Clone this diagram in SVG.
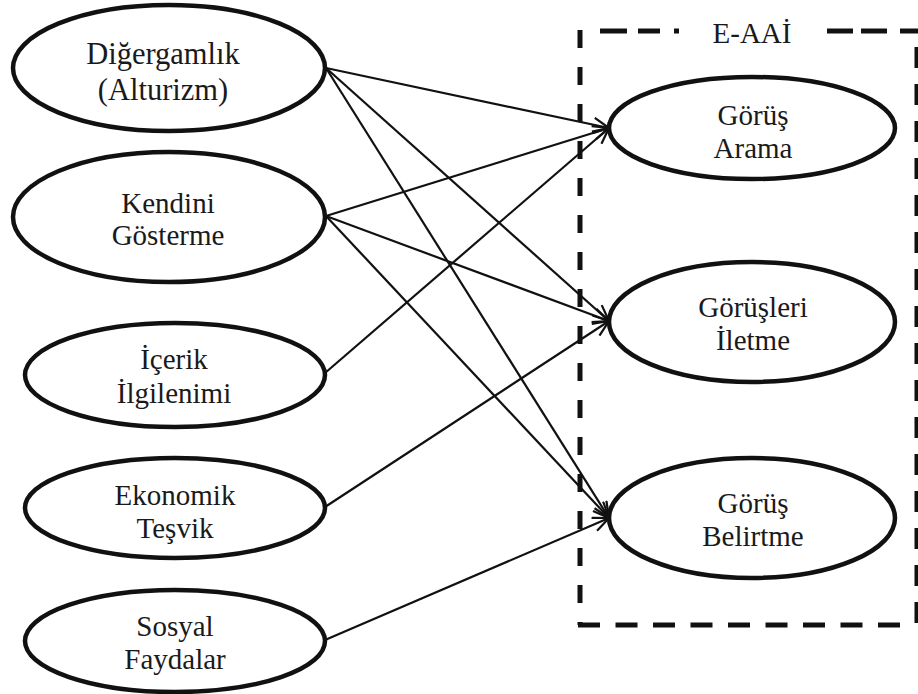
<svg xmlns="http://www.w3.org/2000/svg" width="918" height="694" viewBox="0 0 918 694">
  <style>
    .node ellipse { fill: #ffffff; stroke: #111111; stroke-width: 4.5; }
    text { font-family: 'Liberation Serif', 'DejaVu Serif', serif; font-size: 29px; fill: #1a1a1a; text-anchor: middle; }
    .big text { font-size: 30.5px; }
    .edge { stroke: #111111; stroke-width: 2.2; fill: none; marker-end: url(#arrow); }
    .frame { stroke: #111111; stroke-width: 5; fill: none; }
  </style>
  <defs>
    <marker id="arrow" markerWidth="20" markerHeight="16" refX="17" refY="8" orient="auto" markerUnits="userSpaceOnUse">
      <path d="M1,1 L17,8 L1,15" fill="none" stroke="#111111" stroke-width="2.2"/>
    </marker>
  </defs>
  <rect width="918" height="694" fill="#ffffff"/>

  <!-- dashed E-AAİ frame -->
  <g id="frame">
    <line class="frame" x1="580" y1="30" x2="580" y2="625" stroke-dasharray="18 19"/>
    <line class="frame" x1="578" y1="625" x2="902" y2="625" stroke-dasharray="22 15.5"/>
    <line class="frame" x1="917" y1="47" x2="917" y2="628" stroke-dasharray="21 16"/>
    <line class="frame" x1="600" y1="31" x2="627" y2="31"/>
    <line class="frame" x1="638" y1="31" x2="660" y2="31"/>
    <line class="frame" x1="674" y1="31" x2="679" y2="31"/>
    <line class="frame" x1="827" y1="31" x2="853" y2="31"/>
    <line class="frame" x1="861" y1="31" x2="887" y2="31"/>
    <line class="frame" x1="900" y1="31" x2="918" y2="31"/>
    <text x="752" y="43">E-AAİ</text>
  </g>

  <!-- connectors -->
  <g id="connectors">
    <line class="edge" x1="326" y1="68" x2="609" y2="128"/>
    <line class="edge" x1="326" y1="68" x2="609" y2="321"/>
    <line class="edge" x1="326" y1="68" x2="609" y2="518"/>
    <line class="edge" x1="326" y1="216" x2="609" y2="128"/>
    <line class="edge" x1="326" y1="216" x2="609" y2="321"/>
    <line class="edge" x1="326" y1="216" x2="609" y2="518"/>
    <line class="edge" x1="325" y1="373" x2="609" y2="128"/>
    <line class="edge" x1="325" y1="507" x2="609" y2="321"/>
    <line class="edge" x1="325" y1="640" x2="609" y2="518"/>
  </g>

  <!-- antecedent motives -->
  <g id="n-digergamlik" class="node big">
    <ellipse cx="169" cy="68" rx="156" ry="63"/>
    <text x="163" y="64">Diğergamlık</text>
    <text x="163" y="100">(Alturizm)</text>
  </g>
  <g id="n-kendini" class="node">
    <ellipse cx="169" cy="217" rx="156" ry="65"/>
    <text x="168" y="213">Kendini</text>
    <text x="168" y="245">Gösterme</text>
  </g>
  <g id="n-icerik" class="node">
    <ellipse cx="175" cy="375" rx="150" ry="52"/>
    <text x="174" y="369">İçerik</text>
    <text x="174" y="403">İlgilenimi</text>
  </g>
  <g id="n-ekonomik" class="node">
    <ellipse cx="175" cy="508" rx="150" ry="50"/>
    <text x="175" y="505">Ekonomik</text>
    <text x="175" y="538">Teşvik</text>
  </g>
  <g id="n-sosyal" class="node">
    <ellipse cx="175" cy="641" rx="150" ry="51"/>
    <text x="175" y="636">Sosyal</text>
    <text x="175" y="669">Faydalar</text>
  </g>

  <!-- E-AAİ dimensions -->
  <g id="n-gorus-arama" class="node">
    <ellipse cx="752" cy="128" rx="143" ry="51"/>
    <text x="753" y="125">Görüş</text>
    <text x="753" y="158">Arama</text>
  </g>
  <g id="n-gorusleri-iletme" class="node">
    <ellipse cx="752" cy="322" rx="143" ry="60"/>
    <text x="753" y="317">Görüşleri</text>
    <text x="753" y="350">İletme</text>
  </g>
  <g id="n-gorus-belirtme" class="node">
    <ellipse cx="752" cy="518" rx="143" ry="60"/>
    <text x="753" y="513">Görüş</text>
    <text x="753" y="546">Belirtme</text>
  </g>
</svg>
